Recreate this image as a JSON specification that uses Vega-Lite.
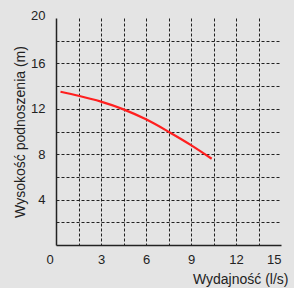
{
  "$schema": "https://vega.github.io/schema/vega-lite/v6.json",
  "autosize": "none",
  "padding": {"left": 56, "top": 18, "right": 13, "bottom": 43},
  "width": 225,
  "height": 227,
  "background": "#e4e4e4",
  "config": {
    "view": {"stroke": null},
    "font": "Liberation Sans",
    "axis": {
      "domainColor": "#222222",
      "domainWidth": 1.5,
      "ticks": false,
      "gridColor": "#222222",
      "gridDash": [3, 2],
      "gridWidth": 1,
      "labelFont": "Liberation Sans",
      "labelFontSize": 13,
      "labelColor": "#222222",
      "titleFont": "Liberation Sans",
      "titleFontSize": 14,
      "titleFontWeight": "normal",
      "titleColor": "#222222"
    }
  },
  "data": {
    "values": [
      {"q": 0.3, "h": 13.5},
      {"q": 1.5, "h": 13.15},
      {"q": 3.0, "h": 12.63},
      {"q": 4.5, "h": 11.95},
      {"q": 6.0, "h": 11.07},
      {"q": 7.5, "h": 9.98},
      {"q": 9.0, "h": 8.8},
      {"q": 10.38, "h": 7.6}
    ]
  },
  "mark": {"type": "line", "color": "#ff1f1f", "strokeWidth": 2.2, "interpolate": "monotone"},
  "encoding": {
    "x": {
      "field": "q",
      "type": "quantitative",
      "scale": {"domain": [0, 15], "nice": false, "zero": false},
      "axis": {
        "title": "Wydajność (l/s)",
        "values": [0, 1.5, 3, 4.5, 6, 7.5, 9, 10.5, 12, 13.5, 15],
        "labelExpr": "datum.value % 3 == 0 ? datum.label : ''",
        "labelPadding": 8,
        "labelOffset": {"condition": {"test": "datum.value == 0", "value": -10}, "value": 0},
        "gridOpacity": {"condition": {"test": "datum.value == 0 || datum.value == 15", "value": 0}, "value": 1},
        "titleX": 232,
        "titleY": 34,
        "titleAlign": "right",
        "titleBaseline": "middle",
        "titleAnchor": null
      }
    },
    "y": {
      "field": "h",
      "type": "quantitative",
      "scale": {"domain": [0, 20], "nice": false, "zero": false},
      "axis": {
        "title": "Wysokość podnoszenia (m)",
        "values": [0, 2, 4, 6, 8, 10, 12, 14, 16, 18, 20],
        "labelExpr": "datum.value % 4 == 0 && datum.value > 0 ? datum.label : ''",
        "labelPadding": 11,
        "labelOffset": {"condition": {"test": "datum.value == 20", "value": -3}, "value": 0},
        "gridOpacity": {"condition": {"test": "datum.value == 0 || datum.value == 20", "value": 0}, "value": 1},
        "titleX": -36,
        "titleY": 113.5,
        "titleAlign": "center",
        "titleBaseline": "middle",
        "titleAnchor": null
      }
    }
  }
}
